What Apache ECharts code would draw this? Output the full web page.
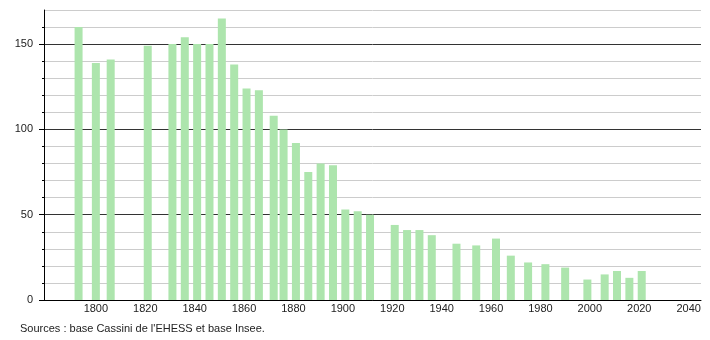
<!DOCTYPE html>
<html>
<head>
<meta charset="utf-8">
<script src="https://cdn.jsdelivr.net/npm/echarts@6/dist/echarts.min.js"></script>
<style>
html,body{margin:0;padding:0;background:#fff;}
#c{width:710px;height:340px;}
</style>
</head>
<body>
<div id="c"></div>
<script>
const years = [1793,1800,1806,1821,1831,1836,1841,1846,1851,1856,1861,1866,1872,1876,1881,1886,1891,1896,1901,1906,1911,1921,1926,1931,1936,1946,1954,1962,1968,1975,1982,1990,1999,2006,2011,2016,2021];
const population = [160,139,141,149,150,154,150,150,165,138,124,123,108,100,92,75,80,79,53,52,50,44,41,41,38,33,32,36,26,22,21,19,12,15,17,13,17];
const xTickLabels = [1800,1820,1840,1860,1880,1900,1920,1940,1960,1980,2000,2020,2040];
const yTickLabels = [0,50,100,150];
const sourceText = "Sources : base Cassini de l'EHESS et base Insee.";

const chart = echarts.init(document.getElementById('c'), null, {renderer:'canvas'});
const font = 'Liberation Sans, Arial, sans-serif';
chart.setOption({
  animation:false,
  backgroundColor:'#fff',
  textStyle:{fontFamily:font},
  grid:{left:44,right:9,top:10,bottom:40,containLabel:false},
  graphic:[{type:'text',left:20,top:323,style:{text:sourceText,font:'11px '+font,fill:'#222'}}],
  xAxis:{
    type:'value',min:1779,max:2045,
    axisLine:{show:true,lineStyle:{color:'#000',width:1}},
    axisTick:{show:false},
    splitLine:{show:false},
    axisLabel:{customValues:xTickLabels,formatter:v=>String(v),color:'#222',fontSize:11,margin:3,fontFamily:font}
  },
  yAxis:[{
    type:'value',min:0,max:170,interval:10,
    axisLine:{show:true,lineStyle:{color:'#000',width:1}},
    axisTick:{show:true,length:2,lineStyle:{color:'#000'}},
    axisLabel:{show:true,showMinLabel:true,showMaxLabel:false,formatter:v=>(yTickLabels.indexOf(v)>=0?String(v):''),color:'#222',fontSize:11,margin:11,fontFamily:font},
    splitLine:{show:true,lineStyle:{color:['#333','#cccccc','#cccccc','#cccccc','#cccccc'],width:1}}
  },{
    type:'value',min:0,max:170,position:'left',
    axisLine:{show:false},
    axisTick:{show:true,customValues:yTickLabels,length:5,lineStyle:{color:'#000'}},
    axisLabel:{show:false},
    splitLine:{show:false}
  }],
  series:[{
    type:'bar',
    barWidth:8,
    itemStyle:{color:'#ade5ad'},
    data:years.map((y,i)=>[y,population[i]])
  }]
});
</script>
</body>
</html>
